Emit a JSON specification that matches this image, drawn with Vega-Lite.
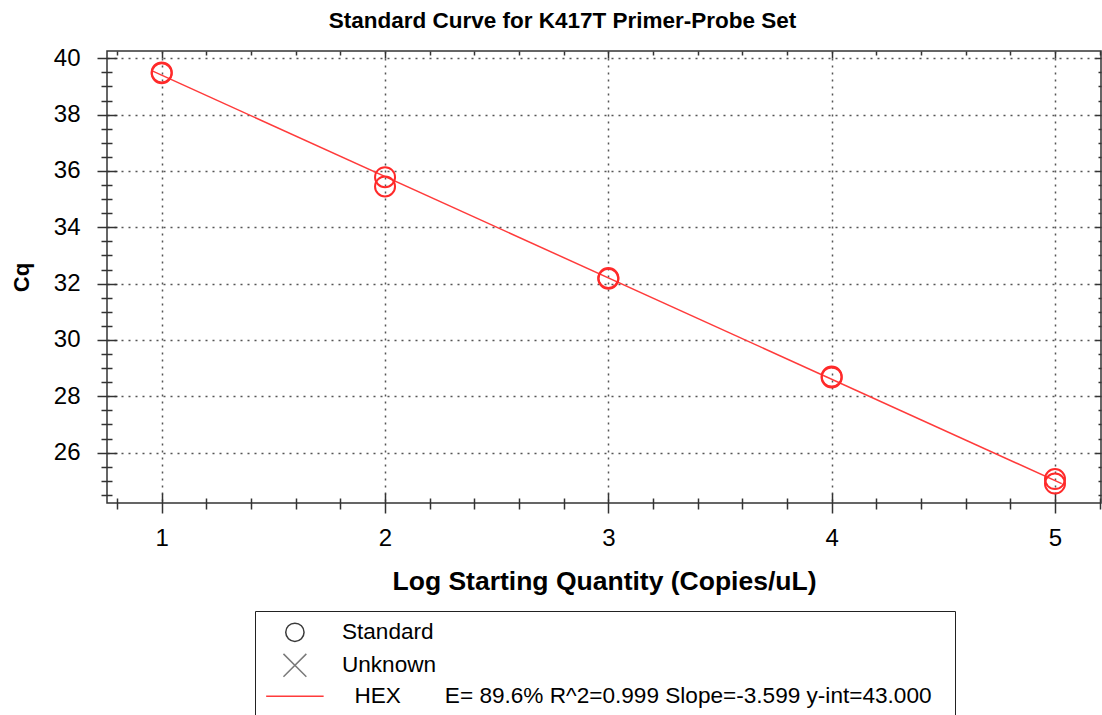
{
  "$schema": "https://vega.github.io/schema/vega-lite/v6.json",
  "width": 994,
  "height": 452,
  "autosize": "none",
  "padding": {"left": 107, "top": 51, "right": 1, "bottom": 212},
  "background": "white",
  "config": {
    "font": "Liberation Sans",
    "view": {"stroke": "#333333", "strokeWidth": 1.5},
    "axis": {
      "domain": false,
      "grid": false,
      "labels": false,
      "tickColor": "#333333",
      "tickWidth": 1.5,
      "labelColor": "black",
      "titleColor": "black",
      "gridColor": "#555555",
      "gridDash": [2, 5],
      "gridWidth": 1.5,
      "gridOpacity": 1
    }
  },
  "title": {
    "text": "Standard Curve for K417T Primer-Probe Set",
    "fontSize": 22.5,
    "fontWeight": "bold",
    "anchor": "middle",
    "dx": -41.5,
    "offset": 14,
    "color": "black",
    "font": "Liberation Sans"
  },
  "datasets": {
    "points": [
      {"logQty": 1, "cq": 39.5},
      {"logQty": 1, "cq": 39.47},
      {"logQty": 2, "cq": 35.78},
      {"logQty": 2, "cq": 35.45},
      {"logQty": 3, "cq": 32.17},
      {"logQty": 3, "cq": 32.2},
      {"logQty": 4, "cq": 28.7},
      {"logQty": 4, "cq": 28.67},
      {"logQty": 5, "cq": 25.06},
      {"logQty": 5, "cq": 24.9}
    ],
    "fit": [
      {"logQty": 0.96, "cq": 39.545},
      {"logQty": 5.03, "cq": 24.897}
    ],
    "legend": [
      {"series": "Standard", "logQty": -5, "cq": 0},
      {"series": "Unknown", "logQty": -5, "cq": 0},
      {"series": "\u200b\u00a0\u00a0HEX\u00a0\u00a0\u00a0\u00a0\u00a0\u00a0\u00a0E= 89.6% R^2=0.999 Slope=-3.599 y-int=43.000\u00a0\u00a0\u200b", "logQty": -5, "cq": 0}
    ]
  },
  "layer": [
    {
      "data": {"name": "fit"},
      "mark": {"type": "line", "color": "#ff3b3b", "strokeWidth": 1.5},
      "encoding": {
        "x": {
          "field": "logQty", "type": "quantitative",
          "scale": {"domain": [0.755, 5.206], "nice": false, "zero": false},
          "axis": {
            "orient": "bottom", "values": [1, 2, 3, 4, 5], "labels": true, "ticks": false, "tickSize": 0,
            "grid": true, "labelFontSize": 24, "labelPadding": 23,
            "title": "Log Starting Quantity (Copies/uL)", "titleFontSize": 26.5, "titleFontWeight": "bold", "titlePadding": 18
          }
        },
        "y": {
          "field": "cq", "type": "quantitative",
          "scale": {"domain": [24.21, 40.26], "nice": false, "zero": false},
          "axis": {
            "orient": "left", "values": [26, 28, 30, 32, 34, 36, 38, 40], "labels": true, "ticks": false, "tickSize": 0,
            "grid": true, "labelFontSize": 24, "labelPadding": 27,
            "title": "Cq", "titleFontSize": 22, "titleFontWeight": "bold", "titlePadding": 20
          }
        }
      }
    },
    {
      "data": {"name": "points"},
      "mark": {"type": "point", "filled": false, "shape": "circle", "size": 400, "strokeWidth": 2, "color": "#ff2a2a", "opacity": 1},
      "encoding": {
        "x": {
          "field": "logQty", "type": "quantitative",
          "scale": {"domain": [0.755, 5.206], "nice": false, "zero": false},
          "axis": {"orient": "bottom", "values": [1, 2, 3, 4, 5], "ticks": true, "tickSize": 20, "offset": -10, "title": null}
        },
        "y": {
          "field": "cq", "type": "quantitative",
          "scale": {"domain": [24.21, 40.26], "nice": false, "zero": false},
          "axis": {"orient": "left", "values": [26, 28, 30, 32, 34, 36, 38, 40], "ticks": true, "tickSize": 20, "offset": -10, "title": null}
        }
      }
    },
    {
      "data": {"name": "legend"},
      "mark": {"type": "point", "filled": false, "clip": true, "strokeWidth": 1.5, "opacity": 1},
      "encoding": {
        "x": {
          "field": "logQty", "type": "quantitative",
          "scale": {"domain": [0.755, 5.206], "nice": false, "zero": false},
          "axis": {"orient": "bottom", "values": [0.8, 1.2, 1.4, 1.6, 1.8, 2.2, 2.4, 2.6, 2.8, 3.2, 3.4, 3.6, 3.8, 4.2, 4.4, 4.6, 4.8, 5.2], "ticks": true, "tickSize": 11, "offset": -5, "title": null}
        },
        "y": {
          "field": "cq", "type": "quantitative",
          "scale": {"domain": [24.21, 40.26], "nice": false, "zero": false},
          "axis": {"orient": "left", "values": [24.5, 25, 25.5, 26.5, 27, 27.5, 28.5, 29, 29.5, 30.5, 31, 31.5, 32.5, 33, 33.5, 34.5, 35, 35.5, 36.5, 37, 37.5, 38.5, 39, 39.5], "ticks": true, "tickSize": 11, "offset": -5, "title": null}
        },
        "color": {
          "field": "series", "type": "nominal",
          "scale": {
            "domain": ["Standard", "Unknown", "\u200b\u00a0\u00a0HEX\u00a0\u00a0\u00a0\u00a0\u00a0\u00a0\u00a0E= 89.6% R^2=0.999 Slope=-3.599 y-int=43.000\u00a0\u00a0\u200b"],
            "range": ["#3a3a3a", "#7a7a7a", "#ff3b3b"]
          },
          "legend": {
            "orient": "none", "legendX": 148, "legendY": 560, "title": null,
            "padding": 10, "strokeColor": "#222222", "fillColor": "white",
            "labelFontSize": 22.6, "labelColor": "black", "labelLimit": 900, "labelOffset": 35.7,
            "symbolOffset": 18.6, "symbolSize": 335, "symbolStrokeWidth": 1.5, "symbolOpacity": 1,
            "symbolFillColor": "transparent", "rowPadding": 5
          }
        },
        "shape": {
          "field": "series", "type": "nominal",
          "scale": {
            "domain": ["Standard", "Unknown", "\u200b\u00a0\u00a0HEX\u00a0\u00a0\u00a0\u00a0\u00a0\u00a0\u00a0E= 89.6% R^2=0.999 Slope=-3.599 y-int=43.000\u00a0\u00a0\u200b"],
            "range": ["circle", "M-1.25,-1.25L1.25,1.25M-1.25,1.25L1.25,-1.25", "M-3.14,0L3.14,0"]
          }
        }
      }
    },
    {
      "data": {"name": "points"},
      "mark": {"type": "point", "opacity": 0},
      "encoding": {
        "x": {
          "field": "logQty", "type": "quantitative",
          "scale": {"domain": [0.755, 5.206], "nice": false, "zero": false},
          "axis": {"orient": "top", "values": [1, 2, 3, 4, 5], "ticks": true, "tickSize": 7, "offset": -7, "title": null}
        },
        "y": {
          "field": "cq", "type": "quantitative",
          "scale": {"domain": [24.21, 40.26], "nice": false, "zero": false},
          "axis": {"orient": "right", "values": [26, 28, 30, 32, 34, 36, 38, 40], "ticks": true, "tickSize": 6, "offset": -6, "title": null}
        }
      }
    },
    {
      "data": {"name": "points"},
      "mark": {"type": "point", "opacity": 0},
      "encoding": {
        "x": {
          "field": "logQty", "type": "quantitative",
          "scale": {"domain": [0.755, 5.206], "nice": false, "zero": false},
          "axis": {"orient": "top", "values": [0.8, 1.2, 1.4, 1.6, 1.8, 2.2, 2.4, 2.6, 2.8, 3.2, 3.4, 3.6, 3.8, 4.2, 4.4, 4.6, 4.8, 5.2], "ticks": true, "tickSize": 4, "offset": -4, "title": null}
        },
        "y": {
          "field": "cq", "type": "quantitative",
          "scale": {"domain": [24.21, 40.26], "nice": false, "zero": false},
          "axis": {"orient": "right", "values": [24.5, 25, 25.5, 26.5, 27, 27.5, 28.5, 29, 29.5, 30.5, 31, 31.5, 32.5, 33, 33.5, 34.5, 35, 35.5, 36.5, 37, 37.5, 38.5, 39, 39.5], "ticks": true, "tickSize": 3, "offset": -3, "title": null}
        }
      }
    }
  ],
  "resolve": {"axis": {"x": "independent", "y": "independent"}}
}
